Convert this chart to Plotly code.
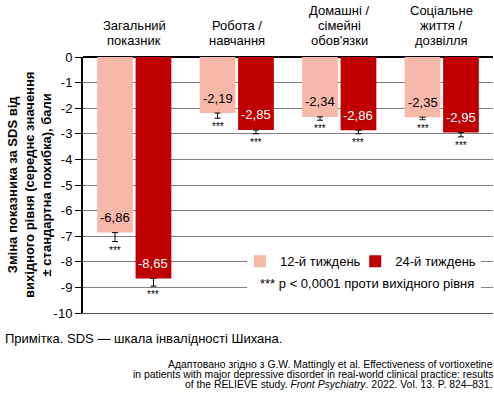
import plotly.graph_objects as go

categories = ["Загальний<br>показник", "Робота /<br>навчання", "Домашні /<br>сімейні<br>обов'язки", "Соціальне<br>життя /<br>дозвілля"]
week12 = [-6.86, -2.19, -2.34, -2.35]
week24 = [-8.65, -2.85, -2.86, -2.95]
err12 = [0.35, 0.2, 0.13, 0.1]
err24 = [0.3, 0.15, 0.14, 0.17]
tick_vals = [0, -1, -2, -3, -4, -5, -6, -7, -8, -9, -10]
tick_text = ["0", "-1", "-2", "-3", "-4", "-5", "-6", "-7", "-8", "-9", "-10"]
series_names = ["12-й тиждень", "24-й тиждень"]

FONT = "Liberation Sans, Arial, Helvetica, sans-serif"
LIGHT = "#f5b8a9"
DARK = "#c00000"

def fmt(v):
    return f"{v:.2f}".replace(".", ",")

xs = list(range(len(categories)))
fig = go.Figure()
for vals, errs, name, col, lg in [(week12, err12, series_names[0], LIGHT, "legend"),
                                  (week24, err24, series_names[1], DARK, "legend2")]:
    fig.add_trace(go.Bar(
        x=xs, y=vals, name=name, marker=dict(color=col, line=dict(width=0)),
        error_y=dict(type="data", symmetric=False, array=[0]*len(vals), arrayminus=errs,
                     color="black", thickness=1, width=3),
        hoverinfo="skip", legend=lg,
    ))

annotations = []
# category labels on top (one annotation per line for tight leading)
for i, c in enumerate(categories):
    lines = c.split("<br>")
    n = len(lines)
    for j, ln in enumerate(lines):
        annotations.append(dict(x=i, xref="x", y=1, yref="paper", text=ln, showarrow=False,
                                yanchor="middle", yshift=17 + 15 * (n - 1 - j),
                                font=dict(size=13, family=FONT, color="black")))
# value labels and significance stars
bw = 0.75 / 2
for i in xs:
    for k, (vals, errs, tcol) in enumerate([(week12, err12, "black"), (week24, err24, "white")]):
        off = (-0.5 + k) * bw
        annotations.append(dict(x=i + off, xref="x", y=vals[i], yref="y", text=fmt(vals[i]),
                                showarrow=False, yanchor="middle", yshift=15,
                                font=dict(size=13, family=FONT, color=tcol)))
        annotations.append(dict(x=i + off, xref="x", y=vals[i] - errs[i], yref="y", text="***",
                                showarrow=False, yanchor="top", yshift=-1,
                                font=dict(size=10, family=FONT, color="black")))
# y title
annotations.append(dict(x=0, xref="paper", y=0.5, yref="paper", xanchor="center", yanchor="middle",
                        xshift=-54, textangle=-90, showarrow=False,
                        text="<b>Зміна показника за SDS від<br>вихідного рівня (середнє значення<br>± стандартна похибка), бали</b>",
                        font=dict(size=13, family=FONT, color="black")))
# legend footnote
annotations.append(dict(x=0.427, xref="paper", y=-8.84, yref="y", xanchor="left", yanchor="middle",
                        showarrow=False, text="*** p < 0,0001 проти вихідного рівня",
                        font=dict(size=13, family=FONT, color="black")))
# notes
annotations.append(dict(x=0, xref="paper", y=0, yref="paper", xanchor="left", yanchor="middle",
                        xshift=-80, yshift=-25, showarrow=False,
                        text="Примітка. SDS — шкала інвалідності Шихана.",
                        font=dict(size=13, family=FONT, color="black")))
cite = ["Адаптовано згідно з G.W. Mattingly et al. Effectiveness of vortioxetine",
        "in patients with major depressive disorder in real-world clinical practice: results",
        "of the RELIEVE study. <i>Front Psychiatry</i>. 2022. Vol. 13. P. 824–831."]
for j, line in enumerate(cite):
    annotations.append(dict(x=1, xref="paper", y=0, yref="paper", xanchor="right", yanchor="middle",
                            xshift=2, yshift=-51 - 10 * j, showarrow=False, text=line,
                            font=dict(size=10.4, family=FONT, color="black")))

leg_common = dict(orientation="h", y=0.202, xanchor="left", yanchor="middle",
                  bgcolor="rgba(0,0,0,0)", font=dict(size=13, family=FONT), itemwidth=30)

fig.update_layout(
    width=494, height=396,
    margin=dict(l=83, r=1, t=57, b=83, autoexpand=False),
    paper_bgcolor="white", plot_bgcolor="white",
    barmode="group", bargap=0.25, bargroupgap=0.07,
    font=dict(family=FONT, size=13, color="black"),
    showlegend=True,
    legend=dict(x=0.383, **leg_common),
    legend2=dict(x=0.664, **leg_common),
    annotations=annotations,
    shapes=[dict(type="rect", xref="paper", yref="y", x0=0.4, x1=0.971, y0=-7.35, y1=-9.6,
                 fillcolor="white", line=dict(width=0), layer="above")],
    xaxis=dict(range=[-0.5, 3.5], showticklabels=False, ticks="", showgrid=False,
               showline=True, linecolor="#555555", linewidth=1, zeroline=False),
    yaxis=dict(range=[-10, 0], tickvals=tick_vals, ticktext=tick_text, ticks="outside",
               ticklen=6, tickcolor="black", tickwidth=1, showline=True, linecolor="black",
               linewidth=2, showgrid=True, gridcolor="#808080", gridwidth=1,
               zeroline=True, zerolinecolor="black", zerolinewidth=1.5,
               tickfont=dict(size=13, family=FONT, color="black")),
)
fig.write_html("out.html", config={"displayModeBar": False},
               post_script="document.body.style.margin='0px';")
